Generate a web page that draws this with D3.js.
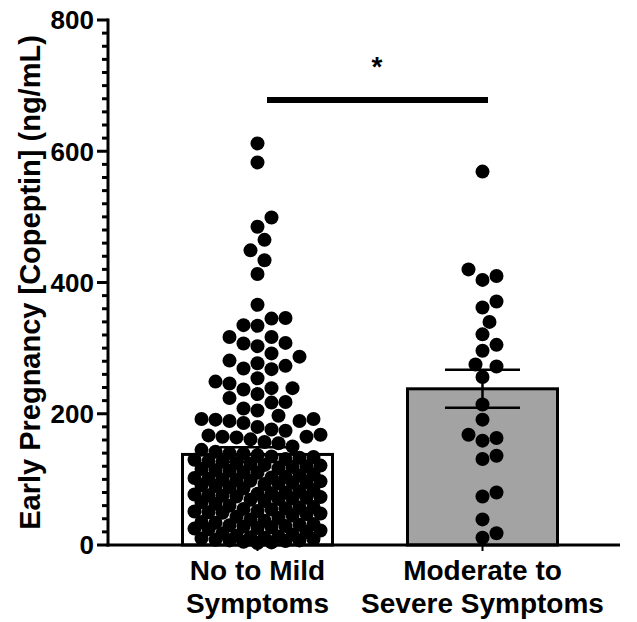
<!DOCTYPE html>
<html>
<head>
<meta charset="utf-8">
<script src="https://cdn.jsdelivr.net/npm/d3@7"></script>
<style>
  body { margin: 0; background: #fff; }
  svg text { font-family: Arial, "Liberation Sans", sans-serif; font-weight: bold; fill: #000; }
</style>
</head>
<body>
<svg id="chart" width="637" height="622"></svg>
<script>
// categories and labels (two line labels)
var groups = ["No to Mild Symptoms", "Moderate to Severe Symptoms"];
var groupLines = [["No to Mild", "Symptoms"], ["Moderate to", "Severe Symptoms"]];

// bar heights (mean) and SEM
var means = [138, 238];
var sems = [11, 29];

// individual copeptin values, group 1 (no to mild)
var mildValues = [
  612, 583, 499, 485, 465, 449, 434, 413, 366, 346, 334, 317, 335, 317, 345,
  308, 303, 307, 281, 292, 277, 287, 269, 254, 239, 273, 268, 249, 239, 237,
  246, 224, 230, 218, 217, 208, 205, 197, 192, 191, 192, 189, 186, 189, 180,
  165, 176, 174, 168, 167, 165, 164, 155, 157, 161, 150,
  145, 142, 140, 139, 137, 135, 134, 133, 131, 130, 128, 127,
  125, 124, 122, 121, 120, 119, 117, 116, 114, 113, 111, 110, 108, 106,
  104, 103, 102, 101, 100, 99, 98, 97, 96, 95, 94, 93, 91, 90, 88, 86,
  84, 82, 80, 79, 78, 77, 76, 75, 74, 73, 72, 71, 70, 69, 67, 65, 63,
  60, 58, 57, 56, 55, 54, 52, 51, 50, 49, 48, 47, 45, 43, 41, 39,
  37, 35, 34, 32, 31, 30, 29, 28, 27, 26, 25, 24, 22, 20, 18, 16,
  14, 13, 12, 11, 10, 9, 8, 7, 7, 6, 5, 4, 3
];

// group 2 (moderate to severe)
var severeValues = [
  569, 404, 420, 410, 362, 371, 340, 321, 296, 305, 275, 272, 256,
  214, 191, 168, 159, 163, 131, 136, 74, 80, 39, 11, 18
];

// y ticks
var yTicks = [0, 200, 400, 600, 800];
var minorTicks = d3.range(0, 801, 20);

// significance bracket
var sigLevel = 678;
var sigLabel = "*";

var svg = d3.select("#chart");

var axisLeftX = 108, axisRight = 620;
var yScale = d3.scaleLinear().domain([0, 800]).range([545, 20]);
var xScale = d3.scaleBand()
  .domain(groups)
  .range([145, 595])
  .paddingInner(1 / 3)
  .paddingOuter(1 / 6);

var r = 7;
var barFill = ["#ffffff", "#a3a3a3"];

/* ---- bars ---- */
svg.selectAll("rect.bar")
  .data(groups)
  .enter().append("rect")
  .attr("class", "bar")
  .attr("x", function(d) { return xScale(d); })
  .attr("width", xScale.bandwidth())
  .attr("y", function(d, i) { return yScale(means[i]); })
  .attr("height", function(d, i) { return yScale(0) - yScale(means[i]); })
  .attr("fill", function(d, i) { return barFill[i]; })
  .attr("stroke", "#000")
  .attr("stroke-width", 3);

// swarm layout on a half-dot grid, dots spread sideways, overlap only when the bar is full
function swarm(vals, cx, maxOff) {
  var pts = vals.map(function(v) { return { v: v, y: yScale(v) }; })
    .sort(function(a, b) { return a.v - b.v; });
  var placed = [];
  var step = r;
  var cands = [0];
  for (var k = step; k <= maxOff; k += step) { cands.push(k); cands.push(-k); }
  pts.forEach(function(p) {
    var best = null, bestD = -1;
    for (var c = 0; c < cands.length; c++) {
      var x = cx + cands[c];
      var minD = Infinity;
      for (var j = 0; j < placed.length; j++) {
        var dx = placed[j].x - x, dy = placed[j].y - p.y;
        var dd = Math.sqrt(dx * dx + dy * dy);
        if (dd < minD) minD = dd;
      }
      if (minD >= 2 * r) { best = x; bestD = minD; break; }
      if (minD > bestD) { bestD = minD; best = x; }
    }
    p.x = best;
    placed.push(p);
  });
  return placed;
}

var allDots = [mildValues, severeValues].map(function(vals, i) {
  var cx = xScale(groups[i]) + xScale.bandwidth() / 2;
  return swarm(vals, cx, 68);
});

svg.selectAll("g.dots")
  .data(allDots)
  .enter().append("g")
  .attr("class", "dots")
  .selectAll("circle")
  .data(function(d) { return d; })
  .enter().append("circle")
  .attr("cx", function(d) { return d.x; })
  .attr("cy", function(d) { return d.y; })
  .attr("r", r)
  .attr("fill", "#000");

/* ---- error bars (mean +/- sem) ---- */
var eb = svg.selectAll("g.err")
  .data(groups)
  .enter().append("g")
  .attr("class", "err")
  .attr("stroke", "#000")
  .attr("stroke-width", 2.5);

eb.append("line")
  .attr("x1", function(d) { return xScale(d) + xScale.bandwidth() / 2; })
  .attr("x2", function(d) { return xScale(d) + xScale.bandwidth() / 2; })
  .attr("y1", function(d, i) { return yScale(means[i] + sems[i]); })
  .attr("y2", function(d, i) { return yScale(means[i] - sems[i]); });

[1, -1].forEach(function(s) {
  eb.append("line")
    .attr("x1", function(d) { return xScale(d) + xScale.bandwidth() * 0.25; })
    .attr("x2", function(d) { return xScale(d) + xScale.bandwidth() * 0.75; })
    .attr("y1", function(d, i) { return yScale(means[i] + s * sems[i]); })
    .attr("y2", function(d, i) { return yScale(means[i] + s * sems[i]); });
});

/* ---- y axis ---- */
var yAxis = svg.append("g");
yAxis.append("line")
  .attr("x1", axisLeftX).attr("x2", axisLeftX)
  .attr("y1", yScale(800) - 1.5).attr("y2", yScale(0) + 1.5)
  .attr("stroke", "#000").attr("stroke-width", 3);

yAxis.selectAll("line.minor")
  .data(minorTicks)
  .enter().append("line")
  .attr("class", "minor")
  .attr("x1", function(d) { return yTicks.indexOf(d) >= 0 ? axisLeftX - 11 : axisLeftX - 6; })
  .attr("x2", axisLeftX)
  .attr("y1", function(d) { return yScale(d); })
  .attr("y2", function(d) { return yScale(d); })
  .attr("stroke", "#000")
  .attr("stroke-width", 3);

yAxis.selectAll("text")
  .data(yTicks)
  .enter().append("text")
  .attr("x", axisLeftX - 14)
  .attr("y", function(d) { return yScale(d); })
  .attr("dy", "0.36em")
  .attr("text-anchor", "end")
  .style("font-size", "26px")
  .text(function(d) { return d; });

svg.append("text")
  .attr("transform", "translate(40," + ((yScale(0) + yScale(800)) / 2) + ") rotate(-90)")
  .attr("text-anchor", "middle")
  .style("font-size", "29px")
  .text("Early Pregnancy [Copeptin] (ng/mL)");

/* ---- x axis ---- */
svg.append("line")
  .attr("x1", axisLeftX - 1.5).attr("x2", axisRight)
  .attr("y1", yScale(0)).attr("y2", yScale(0))
  .attr("stroke", "#000").attr("stroke-width", 3);

svg.selectAll("line.xtick")
  .data(groups)
  .enter().append("line")
  .attr("class", "xtick")
  .attr("x1", function(d) { return xScale(d) + xScale.bandwidth() / 2; })
  .attr("x2", function(d) { return xScale(d) + xScale.bandwidth() / 2; })
  .attr("y1", yScale(0))
  .attr("y2", yScale(0) + 6)
  .attr("stroke", "#000")
  .attr("stroke-width", 2);

var xl = svg.selectAll("text.xlab")
  .data(groups)
  .enter().append("text")
  .attr("class", "xlab")
  .attr("text-anchor", "middle")
  .style("font-size", "28px");

xl.selectAll("tspan")
  .data(function(d, i) { return groupLines[i].map(function(t) { return { t: t, g: d }; }); })
  .enter().append("tspan")
  .attr("x", function(d) { return xScale(d.g) + xScale.bandwidth() / 2; })
  .attr("y", function(d, j) { return 580 + j * 33; })
  .text(function(d) { return d.t; });

/* ---- significance bar ---- */
svg.append("line")
  .attr("x1", 267).attr("x2", 488)
  .attr("y1", yScale(sigLevel)).attr("y2", yScale(sigLevel))
  .attr("stroke", "#000")
  .attr("stroke-width", 6);

svg.append("text")
  .attr("x", 377)
  .attr("y", yScale(sigLevel) - 24)
  .attr("text-anchor", "middle")
  .style("font-size", "28px")
  .text(sigLabel);
</script>
</body>
</html>
